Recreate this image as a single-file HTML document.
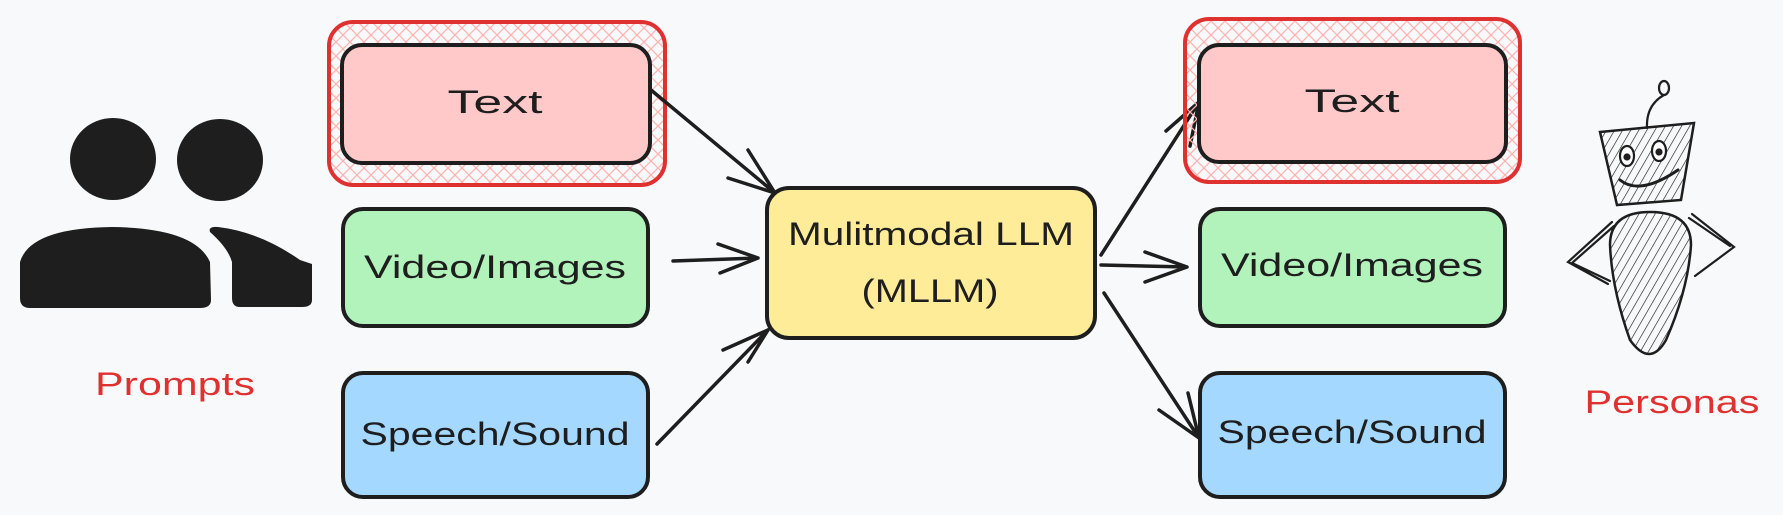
<!DOCTYPE html>
<html><head><meta charset="utf-8"><style>html,body{margin:0;padding:0;background:#f8f9fa}svg{display:block}</style></head>
<body>
<svg width="1783" height="515" viewBox="0 0 1783 515" xmlns="http://www.w3.org/2000/svg" font-family="'Liberation Sans', sans-serif">
<defs>
<pattern id="h" width="14" height="14" patternUnits="userSpaceOnUse">
<path d="M0 0L14 14M14 0L0 14" stroke="#ffb3b3" stroke-width="1.3"/>
</pattern>
<pattern id="d" width="7" height="7" patternUnits="userSpaceOnUse" patternTransform="rotate(30)">
<line x1="0" y1="0" x2="0" y2="7" stroke="#1e1e1e" stroke-width="1.3"/>
</pattern>
</defs>
<rect width="1783" height="515" fill="#f8f9fa"/>
<g fill="#1e1e1e">
<ellipse cx="113" cy="159" rx="43" ry="41"/>
<ellipse cx="220" cy="160" rx="43" ry="41"/>
<path d="M20 262 Q30 228 112 227 Q195 228 210 262 L211 300 Q211 308 200 308 L30 308 Q20 308 20 298 Z"/>
<path d="M210 232 Q208 226 218 227 Q260 232 300 260 L312 264 L312 300 Q312 307 302 307 L240 307 Q232 307 232 298 L232 262 Q228 248 210 232 Z"/>
</g>
<text x="175" y="395" font-size="32" fill="#e03131" text-anchor="middle" textLength="160" lengthAdjust="spacingAndGlyphs">Prompts</text>
<rect x="329" y="22" width="336" height="163" rx="24" fill="url(#h)" stroke="#e03131" stroke-width="4"/>
<rect x="342" y="45" width="308" height="118" rx="20" fill="#ffc9c9" stroke="#1e1e1e" stroke-width="4"/>
<text x="495" y="113" font-size="32" text-anchor="middle" fill="#1e1e1e" textLength="95" lengthAdjust="spacingAndGlyphs">Text</text>
<rect x="343" y="209" width="305" height="117" rx="20" fill="#b2f2bb" stroke="#1e1e1e" stroke-width="4"/>
<text x="495" y="278" font-size="32" text-anchor="middle" fill="#1e1e1e" textLength="262" lengthAdjust="spacingAndGlyphs">Video/Images</text>
<rect x="343" y="373" width="305" height="124" rx="20" fill="#a5d8ff" stroke="#1e1e1e" stroke-width="4"/>
<text x="495" y="445" font-size="32" text-anchor="middle" fill="#1e1e1e" textLength="269" lengthAdjust="spacingAndGlyphs">Speech/Sound</text>
<rect x="767" y="188" width="328" height="150" rx="22" fill="#ffec99" stroke="#1e1e1e" stroke-width="4"/>
<text x="931" y="245" font-size="32" text-anchor="middle" fill="#1e1e1e" textLength="286" lengthAdjust="spacingAndGlyphs">Mulitmodal LLM</text>
<text x="930" y="302" font-size="32" text-anchor="middle" fill="#1e1e1e" textLength="137" lengthAdjust="spacingAndGlyphs">(MLLM)</text>
<g stroke="#1e1e1e" stroke-width="3.5" fill="none" stroke-linecap="round">
<path d="M651 90 L775 193 M748 150 L775 193 M728 178 L775 193"/>
<path d="M673 261 L758 258 M718 244 L758 258 M720 273 L758 258"/>
<path d="M657 444 L768 330 M748 362 L768 330 M723 350 L768 330"/>
<path d="M1101 255 L1199 102 M1166 131 L1199 102 M1190 146 L1199 102"/>
<path d="M1101 265 L1187 267 M1145 252 L1187 267 M1145 282 L1187 267"/>
<path d="M1104 293 L1199 438 M1188 393 L1199 438 M1159 410 L1199 438"/>
</g>
<rect x="1185" y="19" width="335" height="163" rx="24" fill="url(#h)" stroke="#e03131" stroke-width="4"/>
<rect x="1199" y="45" width="307" height="117" rx="20" fill="#ffc9c9" stroke="#1e1e1e" stroke-width="4"/>
<text x="1352" y="112" font-size="32" text-anchor="middle" fill="#1e1e1e" textLength="95" lengthAdjust="spacingAndGlyphs">Text</text>
<rect x="1200" y="209" width="305" height="117" rx="20" fill="#b2f2bb" stroke="#1e1e1e" stroke-width="4"/>
<text x="1352" y="276" font-size="32" text-anchor="middle" fill="#1e1e1e" textLength="262" lengthAdjust="spacingAndGlyphs">Video/Images</text>
<rect x="1200" y="373" width="305" height="124" rx="20" fill="#a5d8ff" stroke="#1e1e1e" stroke-width="4"/>
<text x="1352" y="443" font-size="32" text-anchor="middle" fill="#1e1e1e" textLength="269" lengthAdjust="spacingAndGlyphs">Speech/Sound</text>
<g stroke="#1e1e1e" stroke-width="2.2" fill="none" stroke-linecap="round">
<ellipse cx="1664" cy="88" rx="5" ry="7"/>
<path d="M1664 95 Q1646 105 1647 128"/>
<path d="M1600 132 L1694 123 L1681 200 L1617 205 Z" fill="url(#d)" stroke-width="2.5"/>
<ellipse cx="1627" cy="156" rx="7" ry="10" fill="#fff"/>
<ellipse cx="1659" cy="151" rx="7" ry="10" fill="#fff"/>
<circle cx="1627" cy="157" r="2.5" fill="#1e1e1e"/>
<circle cx="1659" cy="152" r="2.5" fill="#1e1e1e"/>
<path d="M1620 180 Q1640 196 1678 170" stroke-width="3"/>
<path d="M1650 212 Q1610 212 1610 245 Q1612 290 1630 340 Q1650 368 1666 340 Q1688 290 1691 245 Q1691 212 1650 212 Z" fill="url(#d)" stroke-width="2.5"/>
<path d="M1612 222 L1568 262 L1608 284 M1614 226 L1572 263 L1610 281"/>
<path d="M1692 214 L1734 247 L1695 276 M1689 218 L1730 246"/>
</g>
<text x="1672" y="413" font-size="32" fill="#e03131" text-anchor="middle" textLength="175" lengthAdjust="spacingAndGlyphs">Personas</text>
</svg>
</body></html>
